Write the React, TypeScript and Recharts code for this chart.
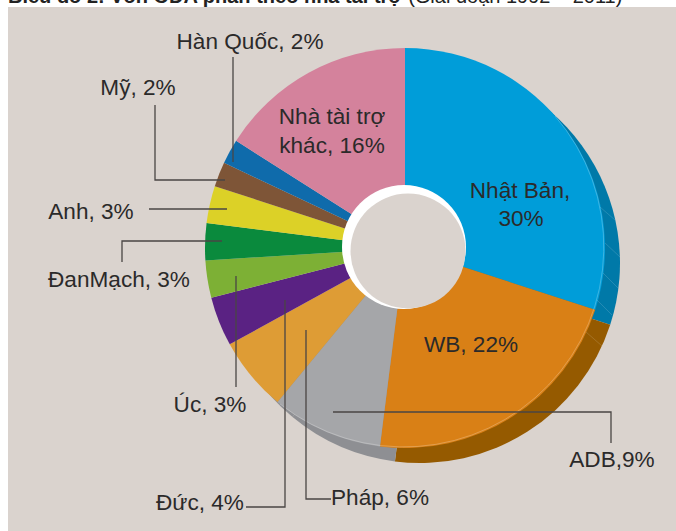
import React from 'react';
import { PieChart, Pie, Cell } from 'recharts';

const donors = ['Nhật Bản', 'WB', 'ADB', 'Pháp', 'Đức', 'Úc', 'Đan Mạch', 'Anh', 'Mỹ', 'Hàn Quốc', 'Khác'];
const shares = [30, 22, 9, 6, 4, 3, 3, 3, 2, 2, 16];
const frontColors = ['#009DD9', '#D98016', '#A5A6A9', '#DE9C35', '#5A2283', '#7DB035', '#0A8A3D', '#DCD127', '#7E5537', '#0F6BAB', '#D4829C'];
const sideColors = ['#0079A8', '#955A00', '#8E8F93', '#8E8F93'];

const tableData = donors.map((name, i) => ({ name, value: shares[i] }));

const BG = '#DAD3CE';
const INK = '#2b2a2a';
const LEADER = '#4a4644';

// [text, x, y, anchor]
const labels: [string, number, number, 'start' | 'middle' | 'end'][] = [
  ['Hàn Quốc, 2%', 250, 49, 'middle'],
  ['Mỹ, 2%', 138, 95, 'middle'],
  ['Anh, 3%', 91, 219, 'middle'],
  ['ĐanMạch, 3%', 119, 287, 'middle'],
  ['Úc, 3%', 210, 412, 'middle'],
  ['Đức, 4%', 200, 510, 'middle'],
  ['Pháp, 6%', 331, 505, 'start'],
  ['ADB,9%', 612, 467, 'middle'],
  ['WB, 22%', 471, 352, 'middle'],
  ['Nhật Bản,', 520, 198, 'middle'],
  ['30%', 521, 226, 'middle'],
  ['Nhà tài trợ', 332, 124, 'middle'],
  ['khác, 16%', 332, 153, 'middle'],
];

const leaders = [
  '233,57 233,162',
  '155,105 155,180 225,180',
  '149,209 227,209',
  '122,262 122,241 222,241',
  '236,276 236,387',
  '285,300 285,507 246,507',
  '306,330 306,499 331,499',
  '333,412 611,412 611,443',
];

const seams = [
  '600,207 615,220',
  '605,243 620,257',
  '603,273 618,288',
  '597,300 612,315',
  '586,332 602,346',
];

const App: React.FC = () => (
  <div style={{ position: 'absolute', left: 0, top: 0, width: 676, height: 531, background: '#fff', overflow: 'hidden' }}>
    <div style={{ position: 'absolute', left: 8, top: 7, width: 668, height: 524, background: BG }} />
    <div style={{ position: 'absolute', left: 0, top: 0 }}>
      <PieChart width={676} height={531} margin={{ top: 0, right: 0, bottom: 0, left: 0 }}>
        <Pie
          data={tableData}
          dataKey="value"
          cx={420}
          cy={263}
          outerRadius={200}
          startAngle={90}
          endAngle={-270}
          stroke="none"
          isAnimationActive={false}
        >
          {tableData.map((d, i) => (
            <Cell key={d.name} fill={sideColors[i] ?? 'transparent'} />
          ))}
        </Pie>
        <Pie
          data={tableData}
          dataKey="value"
          cx={405}
          cy={248}
          outerRadius={200}
          startAngle={90}
          endAngle={-270}
          stroke="none"
          isAnimationActive={false}
        >
          {tableData.map((d, i) => (
            <Cell key={d.name} fill={frontColors[i]} />
          ))}
        </Pie>
      </PieChart>
    </div>
    <svg width={676} height={531} style={{ position: 'absolute', left: 0, top: 0 }}>
      <circle cx={404} cy={247} r={62} fill="#fff" />
      <circle cx={408} cy={251} r={57.5} fill={BG} />
      {/* light rim where the top face meets the side */}
      <path d="M 555 116 A 200 200 0 0 1 280 404" fill="none" stroke="#ffffff" strokeOpacity={0.3} strokeWidth={0.8} />
      {seams.map((p) => (
        <polyline key={p} points={p} fill="none" stroke="#ffffff" strokeOpacity={0.18} strokeWidth={0.8} />
      ))}
      {leaders.map((p) => (
        <polyline key={p} points={p} fill="none" stroke={LEADER} strokeWidth={1.3} />
      ))}
      <g fontFamily="Liberation Sans" fontSize={22.6} fill={INK}>
        {labels.map(([t, x, y, a]) => (
          <text key={t} x={x} y={y} textAnchor={a}>{t}</text>
        ))}
      </g>
      <text x={8} y={3} fontFamily="Liberation Sans" fontSize={20} fill="#222">
        <tspan fontWeight="bold">Biểu đồ 2: Vốn ODA phân theo nhà tài trợ</tspan>
        <tspan> (Giai đoạn 1992 – 2011)</tspan>
      </text>
    </svg>
  </div>
);

export default App;
